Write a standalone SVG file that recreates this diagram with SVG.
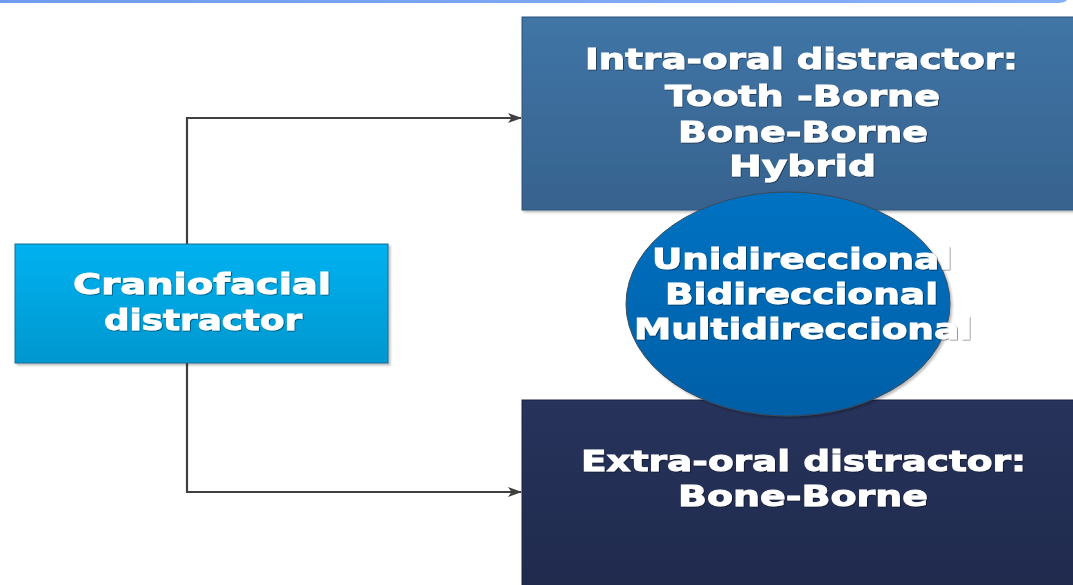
<svg xmlns="http://www.w3.org/2000/svg" width="1073" height="585" viewBox="0 0 1073 585">
  <style>
    .t { font-family: "DejaVu Sans", "Liberation Sans", sans-serif; font-weight: bold; fill: #ffffff; stroke: #ffffff; stroke-width: 0.9; text-anchor: middle; font-size: 29px; filter: url(#tsh); }
    .conn { fill: none; stroke: #404040; stroke-width: 2.2; }
  </style>
  <defs>
    <linearGradient id="gCran" x1="0" y1="0" x2="0" y2="1">
      <stop offset="0" stop-color="#00b2f0"/>
      <stop offset="1" stop-color="#0097cf"/>
    </linearGradient>
    <linearGradient id="gIntra" x1="0" y1="0" x2="0" y2="1">
      <stop offset="0" stop-color="#3f75a6"/>
      <stop offset="1" stop-color="#37628e"/>
    </linearGradient>
    <linearGradient id="gEll" x1="0" y1="0" x2="0" y2="1">
      <stop offset="0" stop-color="#0072c2"/>
      <stop offset="1" stop-color="#005fa6"/>
    </linearGradient>
    <linearGradient id="gExtra" x1="0" y1="0" x2="0" y2="1">
      <stop offset="0" stop-color="#27335b"/>
      <stop offset="1" stop-color="#1f2a4d"/>
    </linearGradient>
    <linearGradient id="gTop" x1="0" y1="0" x2="1" y2="0">
      <stop offset="0" stop-color="#6f9cf0"/>
      <stop offset="1" stop-color="#86b0f8"/>
    </linearGradient>
    <marker id="arr" markerWidth="14" markerHeight="10" refX="13" refY="5" orient="auto" markerUnits="userSpaceOnUse">
      <path d="M0,0 L14,5 L0,10 L3.5,5 Z" fill="#404040"/>
    </marker>
    <filter id="sh" x="-5%" y="-5%" width="115%" height="115%">
      <feDropShadow dx="2" dy="2" stdDeviation="1" flood-color="#000" flood-opacity="0.25"/>
    </filter>
    <filter id="tsh" x="-5%" y="-20%" width="110%" height="140%">
      <feDropShadow dx="0.8" dy="0.8" stdDeviation="0.6" flood-color="#000" flood-opacity="0.55"/>
    </filter>
  </defs>

  <path d="M0,1.5 L1058,1.5 Q1064,1.5 1066,-1" fill="none" stroke="url(#gTop)" stroke-width="3"/>

  <g id="connectors">
    <path class="conn" d="M187,244 L187,118 L521,118" marker-end="url(#arr)"/>
    <path class="conn" d="M187,363 L187,492 L521,492" marker-end="url(#arr)"/>
  </g>

  <g id="intra">
    <rect x="522" y="17" width="560" height="193" fill="url(#gIntra)" stroke="#2f5478" stroke-width="1" filter="url(#sh)"/>
    <text class="t" x="801.5" y="69" textLength="433" lengthAdjust="spacingAndGlyphs">Intra-oral distractor:</text>
    <text class="t" x="802.5" y="106" textLength="275" lengthAdjust="spacingAndGlyphs">Tooth -Borne</text>
    <text class="t" x="803" y="142" textLength="250" lengthAdjust="spacingAndGlyphs">Bone-Borne</text>
    <text class="t" x="802.5" y="176" textLength="147" lengthAdjust="spacingAndGlyphs">Hybrid</text>
  </g>

  <g id="extra">
    <rect x="522" y="400" width="560" height="195" fill="url(#gExtra)" stroke="#1a2340" stroke-width="1"/>
    <text class="t" x="803.5" y="471" textLength="445" lengthAdjust="spacingAndGlyphs">Extra-oral distractor:</text>
    <text class="t" x="803" y="506" textLength="250" lengthAdjust="spacingAndGlyphs">Bone-Borne</text>
  </g>

  <g id="directions">
    <ellipse cx="788" cy="304" rx="162" ry="112" fill="url(#gEll)" stroke="#3a4a5a" stroke-width="1" filter="url(#sh)"/>
    <text class="t" x="802" y="269" textLength="300" lengthAdjust="spacingAndGlyphs">Unidireccional</text>
    <text class="t" x="801.5" y="304" textLength="273" lengthAdjust="spacingAndGlyphs">Bidireccional</text>
    <text class="t" x="803" y="339" textLength="338" lengthAdjust="spacingAndGlyphs">Multidireccional</text>
  </g>

  <g id="craniofacial">
    <rect x="15" y="244" width="373" height="119" fill="url(#gCran)" stroke="#1a6a90" stroke-width="1" filter="url(#sh)"/>
    <text class="t" x="202" y="294" textLength="258" lengthAdjust="spacingAndGlyphs">Craniofacial</text>
    <text class="t" x="203" y="330" textLength="198" lengthAdjust="spacingAndGlyphs">distractor</text>
  </g>
</svg>
